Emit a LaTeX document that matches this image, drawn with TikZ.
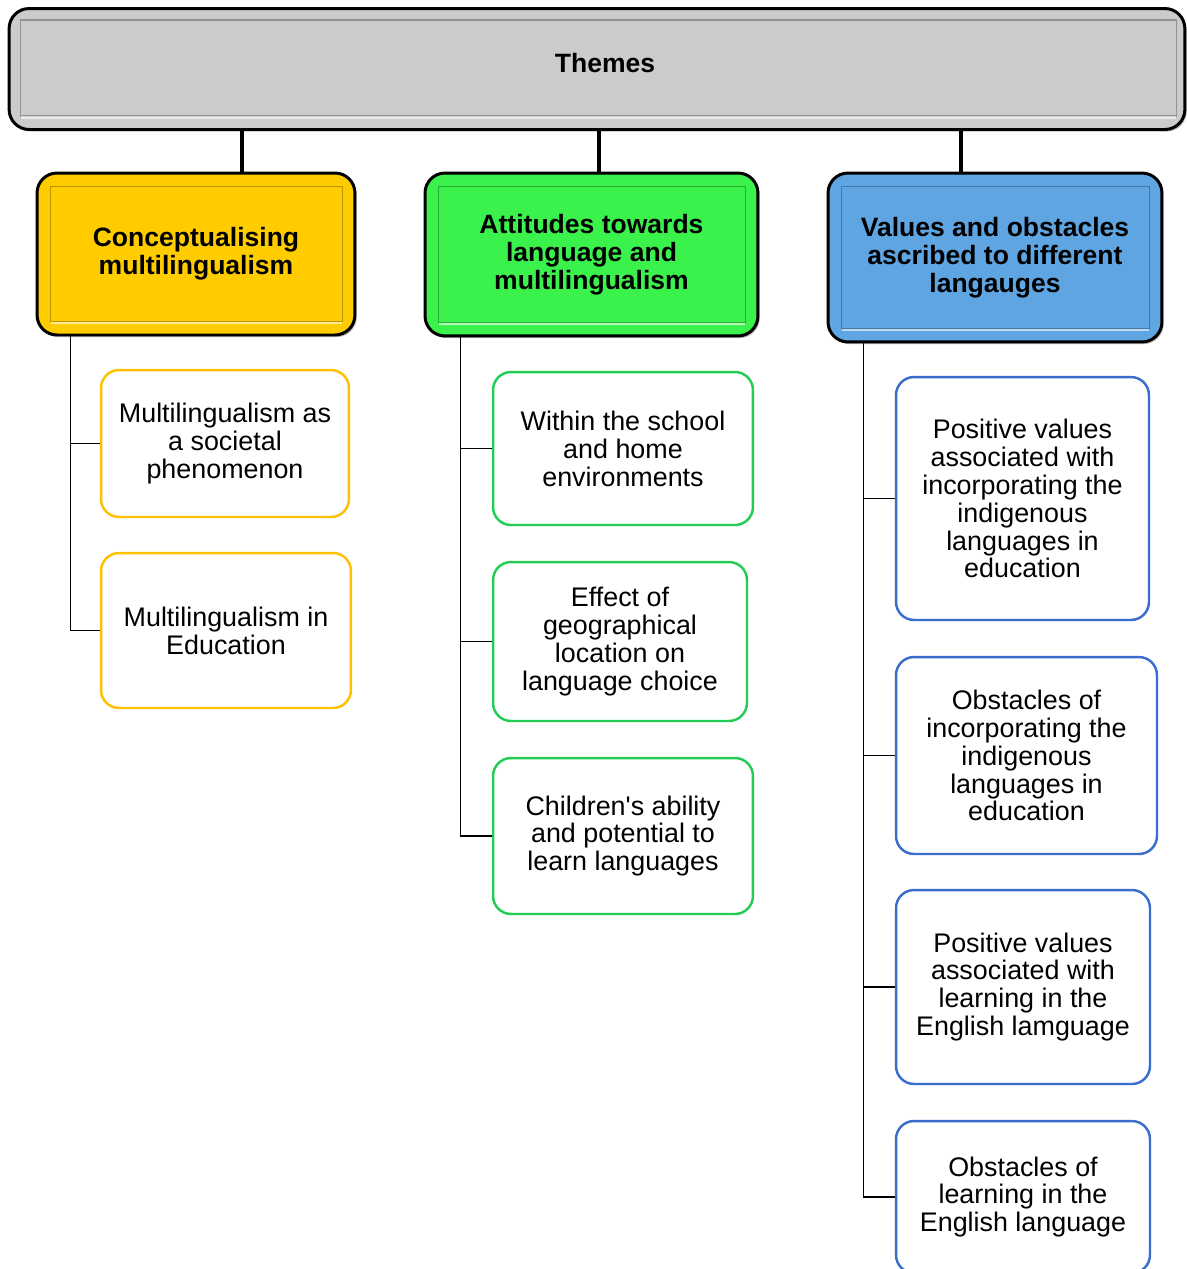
\documentclass[tikz,border=0pt]{standalone}
\usepackage{fontspec}
\setmainfont{Liberation Sans}[Ligatures=TeXOff]
\usetikzlibrary{shadows}

\definecolor{themegray}{HTML}{CBCBCB}
\definecolor{conyellow}{HTML}{FFCC00}
\definecolor{attgreen}{HTML}{3BF24D}
\definecolor{valblue}{HTML}{5FA5E2}
\definecolor{lineyellow}{HTML}{FFC000}
\definecolor{linegreen}{HTML}{22CC55}
\definecolor{lineblue}{HTML}{3A6ECC}

\begin{document}
\begin{tikzpicture}[x=0.02cm,y=-0.02cm,
    font=\fontsize{15.3}{15.9}\selectfont,
    head/.style={draw=black,line width=1.7pt,rounded corners=0.4cm,
                 inner sep=0pt,align=center,font=\fontsize{15.1}{15.9}\selectfont\bfseries,
                 drop shadow={shadow xshift=1pt,shadow yshift=-1.2pt,fill=black!55}},
    bevel/.style={draw=#1!72!black,line width=0.7pt},
    gloss/.style={draw=white,line width=1.4pt,opacity=0.6},
    leaf/.style={draw=#1,line width=1.4pt,rounded corners=0.36cm,fill=white,
                 inner sep=0pt,align=center},
    stem/.style={line width=2pt},
    branch/.style={line width=0.8pt}]

  \clip (0,0) rectangle (1187,1269);

  % themes bar
  \node[head,fill=themegray,minimum width=23.52cm,minimum height=2.42cm,text depth=0.25cm]
        (themes) at (597,69) {\hspace*{0.32cm}Themes};
  \draw[bevel=themegray] ([xshift=0.26cm,yshift=-0.26cm]themes.north west)
        rectangle ([xshift=-0.2cm,yshift=0.3cm]themes.south east);
  \draw[gloss] ([xshift=0.26cm,yshift=0.27cm]themes.south west)
        -- ([xshift=-0.2cm,yshift=0.27cm]themes.south east);

  % theme headers
  \node[head,fill=conyellow,minimum width=6.36cm,minimum height=3.24cm]
        (con) at (196,254)     {Conceptualising\\multilingualism};
  \node[head,fill=attgreen,minimum width=6.66cm,minimum height=3.26cm]
        (att) at (591.5,254.5) {Attitudes towards\\language and\\multilingualism};
  \node[head,fill=valblue,minimum width=6.68cm,minimum height=3.38cm]
        (val) at (995,257.5)   {Values and obstacles\\ascribed to different\\langauges};

  \foreach \h/\c in {con/conyellow,att/attgreen,val/valblue}{
    \draw[bevel=\c] ([xshift=0.3cm,yshift=-0.3cm]\h.north west)
          rectangle ([xshift=-0.28cm,yshift=0.3cm]\h.south east);
    \draw[gloss] ([xshift=0.3cm,yshift=0.27cm]\h.south west)
          -- ([xshift=-0.28cm,yshift=0.27cm]\h.south east);
  }

  \draw[stem] (242,0 |- themes.south) -- (242,0 |- con.north);
  \draw[stem] (599,0 |- themes.south) -- (599,0 |- att.north);
  \draw[stem] (961,0 |- themes.south) -- (961,0 |- val.north);

  % sub themes
  \node[leaf=lineyellow,minimum width=4.96cm,minimum height=2.94cm]
        (societal) at (225,443.5)  {Multilingualism as\\a societal\\phenomenon};
  \node[leaf=lineyellow,minimum width=5.0cm,minimum height=3.1cm]
        (education) at (226,630.5) {Multilingualism in\\Education};

  \node[leaf=linegreen,minimum width=5.2cm,minimum height=3.06cm]
        (school) at (623,448.5)    {Within the school\\and home\\environments};
  \node[leaf=linegreen,minimum width=5.08cm,minimum height=3.18cm]
        (location) at (620,641.5)  {Effect of\\geographical\\location on\\language choice};
  \node[leaf=linegreen,minimum width=5.2cm,minimum height=3.12cm]
        (ability) at (623,836)     {Children's ability\\and potential to\\learn languages};

  \node[leaf=lineblue,minimum width=5.06cm,minimum height=4.86cm]
        (indval) at (1022.5,498.5) {Positive values\\associated with\\incorporating the\\indigenous\\languages in\\education};
  \node[leaf=lineblue,minimum width=5.22cm,minimum height=3.94cm]
        (indobs) at (1026.5,755.5) {Obstacles of\\incorporating the\\indigenous\\languages in\\education};
  \node[leaf=lineblue,minimum width=5.08cm,minimum height=3.88cm]
        (engval) at (1023,987)     {Positive values\\associated with\\learning in the\\English lamguage};
  \node[leaf=lineblue,minimum width=5.08cm,minimum height=3.04cm]
        (engobs) at (1023,1197)    {Obstacles of\\learning in the\\English language};

  % branches
  \draw[branch] ([xshift=0.7cm]con.south west) |- (societal.west);
  \draw[branch] ([xshift=0.7cm]con.south west) |- (education.west);

  \draw[branch] ([xshift=0.74cm]att.south west) |- (school.west);
  \draw[branch] ([xshift=0.74cm]att.south west) |- (location.west);
  \draw[branch] ([xshift=0.74cm]att.south west) |- (ability.west);

  \draw[branch] ([xshift=0.74cm]val.south west) |- (indval.west);
  \draw[branch] ([xshift=0.74cm]val.south west) |- (indobs.west);
  \draw[branch] ([xshift=0.74cm]val.south west) |- (engval.west);
  \draw[branch] ([xshift=0.74cm]val.south west) |- (engobs.west);

\end{tikzpicture}
\end{document}
